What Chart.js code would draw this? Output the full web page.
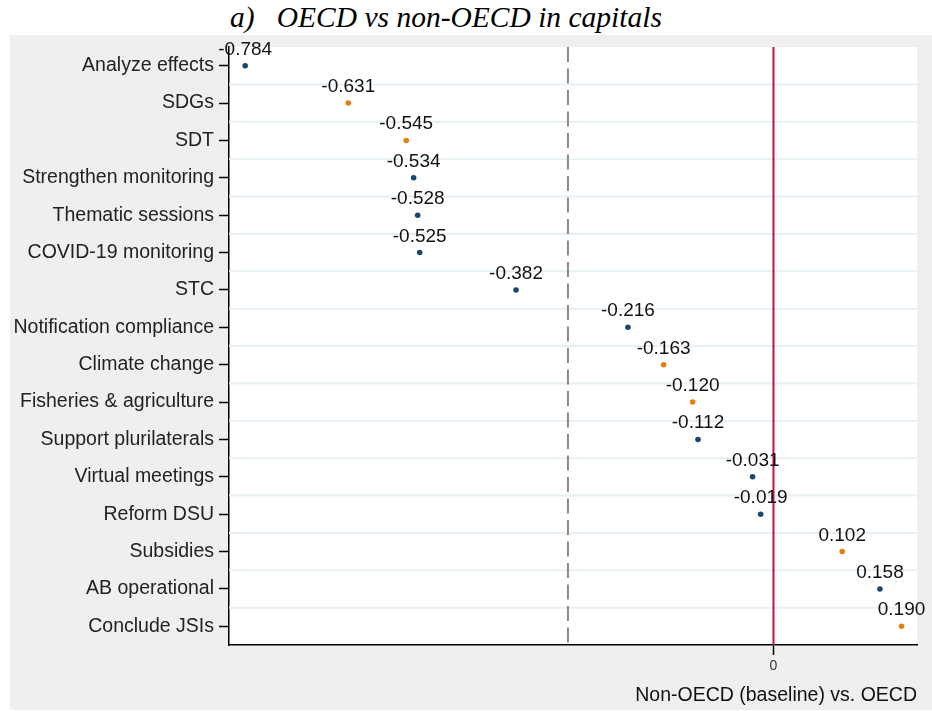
<!DOCTYPE html>
<html>
<head>
<meta charset="utf-8">
<script src="https://cdn.jsdelivr.net/npm/chart.js@4/dist/chart.umd.min.js"></script>
<style>
html, body { margin: 0; padding: 0; background: #fff; }
#title { position: absolute; left: 0; top: 1px; width: 892px; height: 35px; line-height: 35px;
  text-align: center; white-space: pre; color: #000;
  font: italic 29.5px "Liberation Serif", "Times New Roman", serif; }
#wrap { position: absolute; left: 10px; top: 35px; width: 922px; height: 675px; background: #efefef; }
</style>
</head>
<body>
<div id="title">a)   OECD vs non-OECD in capitals</div>
<div id="wrap"><canvas id="oecd-chart"></canvas></div>
<script>
var topics = ['Analyze effects', 'SDGs', 'SDT', 'Strengthen monitoring', 'Thematic sessions',
    'COVID-19 monitoring', 'STC', 'Notification compliance', 'Climate change',
    'Fisheries & agriculture', 'Support plurilaterals', 'Virtual meetings', 'Reform DSU',
    'Subsidies', 'AB operational', 'Conclude JSIs'];
var oecdGap = [-0.784, -0.631, -0.545, -0.534, -0.528, -0.525, -0.382, -0.216, -0.163,
    -0.120, -0.112, -0.031, -0.019, 0.102, 0.158, 0.190];
// 'b' = blue marker, 'o' = orange marker
var markerGroup = ['b', 'o', 'o', 'b', 'b', 'b', 'b', 'b', 'o', 'o', 'b', 'b', 'b', 'o', 'b', 'o'];
var xTicks = [0];
var zeroLine = 0;
var dashedLine = -0.305;

var blue = '#1a476f';
var orange = '#e5800f';

var refLines = {
    id: 'refLines',
    beforeDraw: function(chart){
        var ctx = chart.ctx, area = chart.chartArea;
        ctx.save();
        ctx.fillStyle = '#fff';
        ctx.fillRect(area.left, area.top, area.right - area.left, area.bottom - area.top);
        ctx.restore();
    },
    beforeDatasetsDraw: function(chart){
        var ctx = chart.ctx, area = chart.chartArea;
        var ys = chart.scales.y, xs = chart.scales.x;
        ctx.save();
        // grid lines between categories
        ctx.strokeStyle = '#e6eff1';
        ctx.lineWidth = 2;
        for(var i = 0; i < topics.length - 1; i++){
            var y = (ys.getPixelForTick(i) + ys.getPixelForTick(i + 1)) / 2;
            ctx.beginPath();
            ctx.moveTo(area.left, y);
            ctx.lineTo(area.right, y);
            ctx.stroke();
        }
        // dashed line
        var xd = xs.getPixelForValue(dashedLine);
        ctx.strokeStyle = '#8a8a8a';
        ctx.lineWidth = 2;
        ctx.setLineDash([15, 6.5]);
        ctx.beginPath();
        ctx.moveTo(xd, area.top);
        ctx.lineTo(xd, area.bottom);
        ctx.stroke();
        // zero line
        var x0 = xs.getPixelForValue(zeroLine);
        ctx.setLineDash([]);
        ctx.strokeStyle = '#c8103a';
        ctx.lineWidth = 2;
        ctx.beginPath();
        ctx.moveTo(x0, area.top);
        ctx.lineTo(x0, area.bottom);
        ctx.stroke();
        ctx.restore();
    },
    afterDatasetsDraw: function(chart){
        var ctx = chart.ctx;
        var meta = chart.getDatasetMeta(0);
        ctx.save();
        ctx.font = '19px "Liberation Sans", Arial, sans-serif';
        ctx.fillStyle = '#111';
        ctx.textAlign = 'center';
        ctx.textBaseline = 'alphabetic';
        meta.data.forEach(function(pt, i){
            ctx.fillText(oecdGap[i].toFixed(3), pt.x, pt.y - 11);
        });
        ctx.restore();
    }
};

var myChart = new Chart(document.getElementById('oecd-chart'), {
    type: 'line',
    data: {
        labels: topics,
        datasets: [{
            data: oecdGap,
            showLine: false,
            pointRadius: 2.8,
            pointBorderWidth: 0,
            pointBackgroundColor: markerGroup.map(function(g){ return g == 'o' ? orange : blue; })
        }]
    },
    options: {
        indexAxis: 'y',
        responsive: true,
        maintainAspectRatio: false,
        animation: false,
        layout: { padding: { top: 12, right: 15, left: 0, bottom: 0 } },
        plugins: {
            legend: { display: false },
            tooltip: { enabled: false }
        },
        scales: {
            y: {
                type: 'category',
                offset: true,
                grid: { offset: false, drawOnChartArea: false, tickLength: 10, tickColor: '#000', tickWidth: 1.5 },
                border: { color: '#000', width: 1.5 },
                ticks: { color: '#222', padding: 5, font: { family: '"Liberation Sans", Arial, sans-serif', size: 19.5 } },
                afterFit: function(s){ s.width = 219; s.paddingTop = 0; s.paddingBottom = 0; }
            },
            x: {
                type: 'linear',
                min: -0.808,
                max: 0.213,
                afterBuildTicks: function(s){ s.ticks = xTicks.map(function(v){ return { value: v }; }); },
                grid: { drawOnChartArea: false, tickLength: 10, tickColor: '#000', tickWidth: 1.5 },
                border: { color: '#000', width: 1.5 },
                ticks: { color: '#333', padding: 3, font: { family: '"Liberation Sans", Arial, sans-serif', size: 14 } },
                title: {
                    display: true,
                    text: 'Non-OECD (baseline) vs. OECD',
                    align: 'end',
                    color: '#111',
                    padding: { top: 0, bottom: 3 },
                    font: { family: '"Liberation Sans", Arial, sans-serif', size: 19.5 }
                },
                afterFit: function(s){ s.height = 65; s.paddingLeft = 0; s.paddingRight = 0; }
            }
        }
    },
    plugins: [refLines]
});
</script>
</body>
</html>
